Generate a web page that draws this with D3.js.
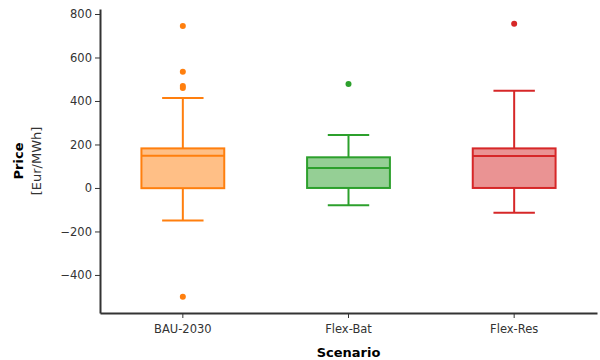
<!DOCTYPE html>
<html>
<head>
<meta charset="utf-8">
<script src="https://cdn.jsdelivr.net/npm/d3@7"></script>
<style>
  body { margin: 0; background: #fff; }
  text { font-family: "DejaVu Sans", Verdana, sans-serif; }
</style>
</head>
<body>
<div id="chart"></div>
<script>
// scenarios and their box statistics (Eur/MWh)
var scenarios = ["BAU-2030", "Flex-Bat", "Flex-Res"];
var colors = ["#ff7f0e", "#2ca02c", "#d62728"];
var q1 = [-1, 0, 0];
var medians = [148, 92, 147];
var q3 = [182, 141, 182];
var whiskerLow = [-150, -80, -114];
var whiskerHigh = [414, 244, 447];
var outliers = [[745, 535, 469, 460, -500], [478], [755]];
var yTicks = [-400, -200, 0, 200, 400, 600, 800];

var width = 600, height = 360;
var margin = {left: 100, right: 3, top: 9, bottom: 47};

var svg = d3.select("#chart")
    .append("svg")
    .attr("width", width)
    .attr("height", height);

var xScale = d3.scaleBand()
    .domain(scenarios)
    .range([margin.left, width - margin.right])
    .padding(0);

var yScale = d3.scaleLinear()
    .domain([-575, 823])
    .range([height - margin.bottom, margin.top]);

var boxes = scenarios.map(function (s, i) {
    return {
        name: s, color: colors[i], q1: q1[i], med: medians[i], q3: q3[i],
        lo: whiskerLow[i], hi: whiskerHigh[i], out: outliers[i]
    };
});

var bw = xScale.bandwidth();

var g = svg.append("g");
var boxG = g.selectAll("g.box")
    .data(boxes)
    .join("g")
    .attr("class", "box")
    .attr("transform", function (d) { return "translate(" + (xScale(d.name) + bw / 2) + ",0)"; });

// whisker lines
boxG.append("line")
    .attr("x1", 0).attr("x2", 0)
    .attr("y1", function (d) { return yScale(d.hi); })
    .attr("y2", function (d) { return yScale(d.q3); })
    .style("stroke", function (d) { return d.color; })
    .attr("stroke-width", 2);
boxG.append("line")
    .attr("x1", 0).attr("x2", 0)
    .attr("y1", function (d) { return yScale(d.q1); })
    .attr("y2", function (d) { return yScale(d.lo); })
    .style("stroke", function (d) { return d.color; })
    .attr("stroke-width", 2);

// caps
["hi", "lo"].forEach(function (k) {
    boxG.append("line")
        .attr("x1", -bw / 8).attr("x2", bw / 8)
        .attr("y1", function (d) { return yScale(d[k]); })
        .attr("y2", function (d) { return yScale(d[k]); })
        .style("stroke", function (d) { return d.color; })
        .attr("stroke-width", 2);
});

// box
boxG.append("rect")
    .attr("x", -bw / 4)
    .attr("width", bw / 2)
    .attr("y", function (d) { return yScale(d.q3); })
    .attr("height", function (d) { return yScale(d.q1) - yScale(d.q3); })
    .style("fill", function (d) { return d.color; })
    .style("fill-opacity", 0.5)
    .style("stroke", function (d) { return d.color; })
    .attr("stroke-width", 2);

// median
boxG.append("line")
    .attr("x1", -bw / 4).attr("x2", bw / 4)
    .attr("y1", function (d) { return yScale(d.med); })
    .attr("y2", function (d) { return yScale(d.med); })
    .style("stroke", function (d) { return d.color; })
    .attr("stroke-width", 2);

// outliers
boxG.selectAll("circle")
    .data(function (d) { return d.out.map(function (v) { return {v: v, color: d.color}; }); })
    .join("circle")
    .attr("cx", 0)
    .attr("cy", function (d) { return yScale(d.v); })
    .attr("r", 3)
    .style("fill", function (d) { return d.color; });

// axes
var xAxis = d3.axisBottom(xScale).tickSize(5).tickPadding(7).tickSizeOuter(0);
var yAxis = d3.axisLeft(yScale).tickValues(yTicks).tickSize(5).tickPadding(3).tickSizeOuter(0)
    .tickFormat(function (d) { return d < 0 ? "\u2212" + Math.abs(d) : d; });

function draw(axis, translate) {
    var a = svg.append("g")
        .attr("transform", translate)
        .call(axis);
    a.select(".domain").style("stroke", "#333").style("stroke-width", 2);
    a.selectAll(".tick line").style("stroke", "#333");
    a.selectAll(".tick text").style("font-size", "11.5px").style("fill", "#333")
        .style("font-family", "'DejaVu Sans', Verdana, sans-serif");
    return a;
}

draw(xAxis, "translate(0," + (height - margin.bottom) + ")");
draw(yAxis, "translate(" + margin.left + ",0)");

// axis titles
var cy = (margin.top + height - margin.bottom) / 2;
svg.append("text")
    .attr("transform", "translate(23," + cy + ") rotate(-90)")
    .attr("text-anchor", "middle")
    .style("font-size", "13px").style("font-weight", "bold")
    .text("Price");
svg.append("text")
    .attr("transform", "translate(41," + cy + ") rotate(-90)")
    .attr("text-anchor", "middle")
    .style("font-size", "13px").style("fill", "#333")
    .text("[Eur/MWh]");
svg.append("text")
    .attr("x", (margin.left + width - margin.right) / 2)
    .attr("y", 357)
    .attr("text-anchor", "middle")
    .style("font-size", "13px").style("font-weight", "bold")
    .text("Scenario");
</script>
</body>
</html>
